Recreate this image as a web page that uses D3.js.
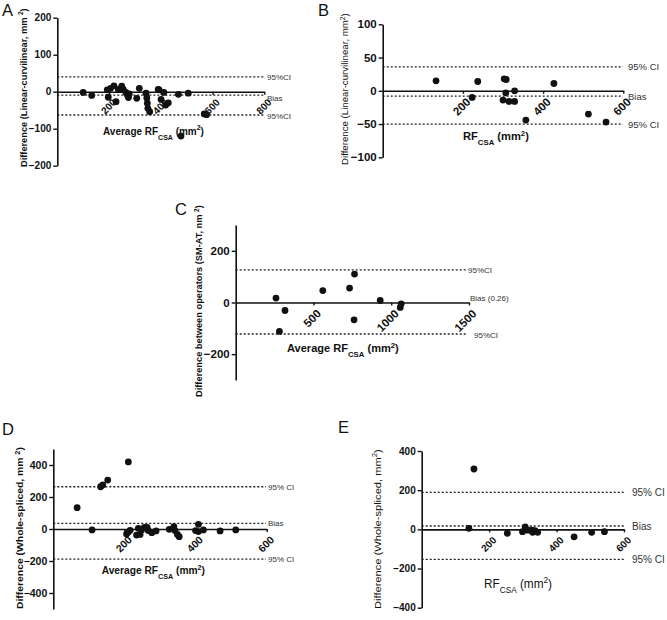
<!DOCTYPE html>
<html>
<head>
<meta charset="utf-8">
<script src="https://cdn.jsdelivr.net/npm/d3@7"></script>
<style>
  html, body { margin: 0; padding: 0; background: #fff; }
  svg { display: block; font-family: "Liberation Sans", Arial, sans-serif; }
</style>
</head>
<body>
<svg id="chart" width="667" height="620"></svg>
<script>
// ---------- DATA ----------
// Panel A: Average RF_CSA vs Difference (Linear-curvilinear)
const aAvg  = [100,133,193,197,206,219,227,236,249,255,265,271,278,275,307,317,343,346,348,350,357,390,401,412,419,429,468,478,506,568,577,393];
const aDiff = [-2,-10,5,-15,9,16,-27,6,15,6,-2,-9,-6,-16,-18,9,-4,-17,-31,-45,-54,6,-21,-2,-36,-30,-7,-120,-4,-60,-62,5];
const aLimits = [40, -9, -63];           // upper 95%CI, bias, lower 95%CI
const aXTicks = [200, 400, 600, 800];
const aYTicks = [200, 100, 0, -100, -200];

// Panel B: RF_CSA vs Difference (Linear-curvilinear)
const bRF   = [133,223,237,300,303,308,307,315,329,329,357,427,513,557];
const bDiff = [15,-10,14,-14,18,17,-3,-16,0,-16,-44,11,-35,-47];
const bLimits = [36, -8, -50];
const bXTicks = [200, 400, 600];
const bYTicks = [100, 50, 0, -50, -100];

// Panel C: Average RF_CSA vs Difference between operators
const cAvg  = [259,281,317,560,732,764,761,929,1064,1058];
const cDiff = [17,-112,-31,46,56,110,-67,8,-5,-19];
const cLimits = [126, 0.26, -122];
const cXTicks = [500, 1000, 1500];
const cYTicks = [200, 0, -200];

// Panel D: Average RF_CSA vs Difference (Whole-spliced)
const dAvg  = [67,109,133,139,153,211,206,211,216,234,239,244,248,256,264,267,277,289,326,339,342,349,354,400,408,408,422,469,513];
const dDiff = [133,-6,264,275,306,419,-31,-19,-8,-38,4,-34,-6,10,10,-10,-23,-12,-2,15,-10,-34,-48,-10,29,-16,-6,-12,-6];
const dLimits = [264, 35, -188];
const dXTicks = [200, 400, 600];
const dYTicks = [400, 200, 0, -200, -400];

// Panel E: RF_CSA vs Difference (Whole-spliced)
const eRF   = [140,155,254,299,307,314,327,329,336,344,452,504,542];
const eDiff = [5,308,-20,-12,13,-4,-4,-15,-7,-15,-38,-15,-12];
const eLimits = [189, 17, -153];
const eXTicks = [200, 400, 600];
const eYTicks = [400, 200, 0, -200, -400];

// ---------- LAYOUT ----------
const panels = [
  { letter: "A", letterPos: [2, 16], xs: aAvg, ys: aDiff, lim: aLimits, xTicks: aXTicks, yTicks: aYTicks,
    xDom: [0, 800], yDom: [-200, 200], left: 57.3, right: 264.3, top: 17.7, bottom: 165.7,
    tickFont: 10, limFont: 8, limX: 267, limLabels: ["95%CI", "Bias", "95%CI"], limDy: [3, 5.5, 3.5],
    lineEnd: 265,
    yTitle: [["Difference (Linear-curvilinear, mm ", ""], ["2", "sup"], [")", ""]], yTitleBold: true,
    yTitleX: 26.5, yTitleY0: 167, yTitleY1: 8, yTitleFont: 9.5,
    xTitle: "avg", xTitleBold: true, xTitleX0: 103, xTitleX1: 204, xTitleY: 134.5, xTitleFont: 11 },
  { letter: "B", letterPos: [318, 16], xs: bRF, ys: bDiff, lim: bLimits, xTicks: bXTicks, yTicks: bYTicks,
    xDom: [0, 600], yDom: [-100, 100], left: 382.7, right: 623.3, top: 24.3, bottom: 157.3,
    tickFont: 11.5, limFont: 9.5, limX: 628, limLabels: ["95% CI", "Bias", "95% CI"], limDy: [3.5, 3.5, 3.5],
    lineEnd: 623,
    yTitle: [["Difference (Linear-curvilinear, mm", ""], ["2", "sup"], [")", ""]], yTitleBold: false,
    yTitleX: 348, yTitleY0: 165, yTitleY1: 13, yTitleFont: 9.5,
    xTitle: "rf", xTitleBold: true, xTitleX0: 463, xTitleX1: 529, xTitleY: 140, xTitleFont: 10.5 },
  { letter: "C", letterPos: [175, 215], xs: cAvg, ys: cDiff, lim: cLimits, xTicks: cXTicks, yTicks: cYTicks,
    xDom: [0, 1500], yDom: [-300, 300], left: 235.7, right: 469, top: 225, bottom: 380,
    tickFont: 11.5, limFont: 8, limX: 468, limLabels: ["95%CI", "Bias (0.26)", "95%CI"], limDy: [3, -1, 3.5],
    limXs: [468, 470, 474], lineEnd: 467, noBiasLine: true,
    yTitle: [["Difference between operators (SM-AT, nm ", ""], ["2", "sup"], [")", ""]], yTitleBold: true,
    yTitleX: 202, yTitleY0: 397, yTitleY1: 205, yTitleFont: 9,
    xTitle: "avg", xTitleBold: true, xTitleX0: 287, xTitleX1: 399, xTitleY: 352, xTitleFont: 11 },
  { letter: "D", letterPos: [2, 435], xs: dAvg, ys: dDiff, lim: dLimits, xTicks: dXTicks, yTicks: dYTicks,
    xDom: [0, 600], yDom: [-500, 500], left: 53.3, right: 266.7, top: 449, bottom: 609,
    tickFont: 10.5, limFont: 8, limX: 268, limLabels: ["95% CI", "Bias", "95% CI"], limDy: [3, 3, 3],
    lineEnd: 266,
    yTitle: [["Difference (Whole-spliced, mm ", ""], ["2", "sup"], [")", ""]], yTitleBold: true,
    yTitleX: 23, yTitleY0: 609, yTitleY1: 447, yTitleFont: 9.5,
    xTitle: "avg", xTitleBold: true, xTitleX0: 101.7, xTitleX1: 205, xTitleY: 574, xTitleFont: 11 },
  { letter: "E", letterPos: [338, 433], xs: eRF, ys: eDiff, lim: eLimits, xTicks: eXTicks, yTicks: eYTicks,
    xDom: [0, 600], yDom: [-400, 400], left: 421.7, right: 624, top: 451, bottom: 607.7,
    tickFont: 10, limFont: 10, limX: 632, limLabels: ["95% CI", "Bias", "95% CI"], limDy: [3.5, 3.5, 3.5],
    lineEnd: 624,
    yTitle: [["Difference (Whole-spliced, mm", ""], ["2", "sup"], [")", ""]], yTitleBold: false,
    yTitleX: 381, yTitleY0: 609, yTitleY1: 449, yTitleFont: 9.5,
    xTitle: "rf", xTitleBold: false, xTitleX0: 484, xTitleX1: 552, xTitleY: 588, xTitleFont: 12 }
];

const svg = d3.select("#chart");
const ink = "#111";
const fmt = d3.format("d");

function addRich(textSel, parts, size) {
  parts.forEach(([s, kind]) => {
    const t = textSel.append("tspan").text(s);
    if (kind === "sup") t.attr("font-size", size * 0.7).attr("baseline-shift", "super");
    if (kind === "sub") t.attr("font-size", size * 0.7).attr("baseline-shift", "sub");
  });
}

panels.forEach(p => {
  const g = svg.append("g");
  const x = d3.scaleLinear().domain(p.xDom).range([p.left, p.right]);
  const y = d3.scaleLinear().domain(p.yDom).range([p.bottom, p.top]);

  // panel letter
  g.append("text").attr("x", p.letterPos[0]).attr("y", p.letterPos[1])
    .attr("font-size", 16.5).attr("fill", ink).text(p.letter);

  // limit lines (dotted)
  p.lim.forEach((v, i) => {
    if (p.noBiasLine && i === 1) return;
    g.append("line")
      .attr("x1", p.left).attr("x2", p.lineEnd)
      .attr("y1", y(v)).attr("y2", y(v))
      .attr("stroke", "#222").attr("stroke-width", 1.3)
      .attr("stroke-dasharray", "2,2");
  });
  p.lim.forEach((v, i) => {
    const lx = p.limXs ? p.limXs[i] : p.limX;
    g.append("text").attr("x", lx).attr("y", y(v) + p.limDy[i])
      .attr("font-size", p.limFont).attr("fill", "#333").text(p.limLabels[i]);
  });

  // y axis
  const yAxis = g.append("g").attr("transform", `translate(${p.left},0)`)
    .call(d3.axisLeft(y).tickValues(p.yTicks).tickFormat(fmt).tickSize(4).tickPadding(2).tickSizeOuter(0));
  yAxis.select(".domain").attr("stroke", ink).attr("stroke-width", 1.6);
  yAxis.selectAll(".tick line").attr("stroke", ink).attr("stroke-width", 1.4);
  yAxis.selectAll(".tick text").attr("font-size", p.tickFont).attr("font-weight", "bold")
    .attr("fill", ink).attr("font-family", '"Liberation Sans", Arial, sans-serif');

  // x axis at zero
  const xAxis = g.append("g").attr("transform", `translate(0,${y(0)})`)
    .call(d3.axisBottom(x).tickValues(p.xTicks).tickFormat(fmt).tickSize(3).tickSizeOuter(0));
  xAxis.select(".domain").attr("stroke", ink).attr("stroke-width", 1.6);
  xAxis.selectAll(".tick line").attr("stroke", ink).attr("stroke-width", 1.4);
  xAxis.selectAll(".tick text")
    .attr("font-size", p.tickFont).attr("font-weight", "bold").attr("fill", ink)
    .attr("font-family", '"Liberation Sans", Arial, sans-serif')
    .attr("text-anchor", "end").attr("x", 0).attr("y", 0).attr("dy", "0.35em")
    .attr("transform", "translate(5,9) rotate(-45)");

  // points
  g.selectAll("circle.pt").data(p.xs.map((v, i) => [v, p.ys[i]]))
    .enter().append("circle").attr("class", "pt")
    .attr("cx", d => x(d[0])).attr("cy", d => y(d[1])).attr("r", 3.4).attr("fill", ink);

  // y title (rotated, fit to measured span)
  const yt = g.append("text").attr("font-size", p.yTitleFont)
    .attr("font-weight", p.yTitleBold ? "bold" : "normal").attr("fill", ink);
  addRich(yt, p.yTitle, p.yTitleFont);
  const yLen = yt.node().getComputedTextLength();
  const ySpan = p.yTitleY0 - p.yTitleY1;
  yt.attr("transform", `translate(${p.yTitleX},${p.yTitleY0}) rotate(-90) scale(${ySpan / yLen},1)`);

  // x title
  const xt = g.append("text").attr("font-size", p.xTitleFont)
    .attr("font-weight", p.xTitleBold ? "bold" : "normal").attr("fill", ink);
  const parts = p.xTitle === "avg"
    ? [["Average RF", ""], ["CSA", "sub"], [" (mm", ""], ["2", "sup"], [")", ""]]
    : [["RF", ""], ["CSA", "sub"], [" (mm", ""], ["2", "sup"], [")", ""]];
  addRich(xt, parts, p.xTitleFont);
  const xLen = xt.node().getComputedTextLength();
  xt.attr("transform", `translate(${p.xTitleX0},${p.xTitleY}) scale(${(p.xTitleX1 - p.xTitleX0) / xLen},1)`);
});
</script>
</body>
</html>
